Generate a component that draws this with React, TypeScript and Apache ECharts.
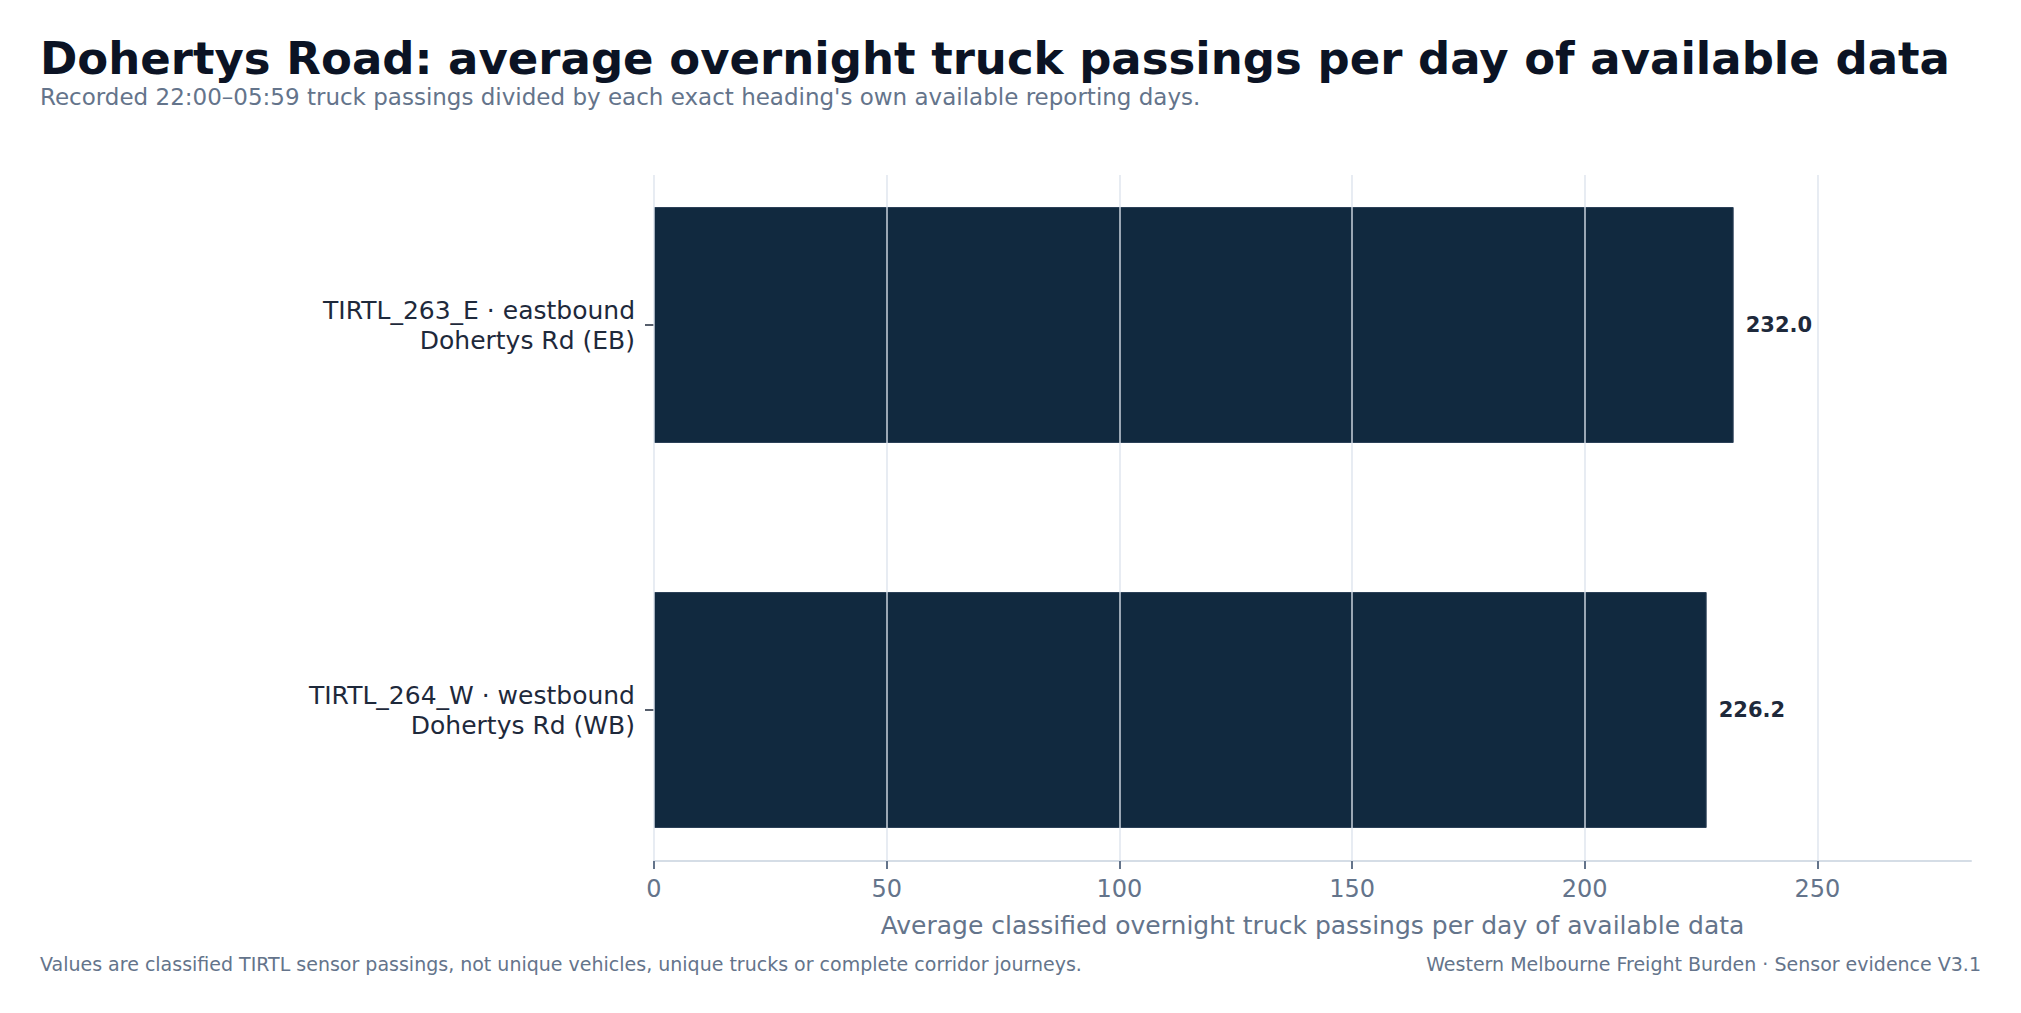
import React, { useEffect, useRef } from "react";
import * as echarts from "echarts";

const categories = [
  "TIRTL_263_E · eastbound\nDohertys Rd (EB)",
  "TIRTL_264_W · westbound\nDohertys Rd (WB)",
];
const values = [232.0, 226.2];
const xTicksMax = 250;
const xAxisMax = 283;
const xInterval = 50;

const TITLE = "Dohertys Road: average overnight truck passings per day of available data";
const SUBTITLE =
  "Recorded 22:00–05:59 truck passings divided by each exact heading's own available reporting days.";
const X_NAME = "Average classified overnight truck passings per day of available data";
const FOOT_LEFT =
  "Values are classified TIRTL sensor passings, not unique vehicles, unique trucks or complete corridor journeys.";
const FOOT_RIGHT = "Western Melbourne Freight Burden · Sensor evidence V3.1";

const FONT = "DejaVu Sans";
const W = 2021;
const H = 1013;
const PLOT_L = 654;
const PLOT_R = 1971;
const PX_PER_UNIT = (PLOT_R - PLOT_L) / xAxisMax;
const PLOT_TOP = 175;
const AXIS_Y = 861;
const BAND_TOP = 132.5;
const BAND_H = 770;

export default function App() {
  const ref = useRef<HTMLDivElement>(null);
  useEffect(() => {
    if (!ref.current) return;
    const chart = echarts.init(ref.current, undefined, { renderer: "svg" });
    const tickGridWidth = xTicksMax * PX_PER_UNIT;
    chart.setOption({
      animation: false,
      backgroundColor: "#ffffff",
      textStyle: { fontFamily: FONT },
      grid: [
        { left: PLOT_L, top: PLOT_TOP, width: tickGridWidth, height: AXIS_Y - PLOT_TOP, containLabel: false },
        { left: PLOT_L, top: BAND_TOP, width: PLOT_R - PLOT_L, height: BAND_H, containLabel: false },
        { left: PLOT_L, top: PLOT_TOP, width: PLOT_R - PLOT_L, height: AXIS_Y - PLOT_TOP, containLabel: false },
      ],
      xAxis: [
        {
          gridIndex: 0,
          type: "value",
          min: 0,
          max: xTicksMax,
          interval: xInterval,
          z: 5,
          axisLine: { show: false },
          axisTick: { show: true, length: 8, lineStyle: { color: "#64748b", width: 2 } },
          axisLabel: { show: true, margin: 16, fontSize: 24, color: "#64748b", fontFamily: FONT },
          splitLine: { show: true, lineStyle: { color: "rgba(220,227,236,0.85)", width: 1.6 } },
        },
        {
          gridIndex: 1,
          type: "value",
          min: 0,
          max: xAxisMax,
          show: false,
        },
        {
          gridIndex: 2,
          type: "value",
          min: 0,
          max: xAxisMax,
          axisLine: { show: true, lineStyle: { color: "#d5dde6", width: 2 } },
          axisTick: { show: false },
          axisLabel: { show: false },
          splitLine: { show: false },
          name: X_NAME,
          nameLocation: "middle",
          nameGap: 52,
          nameTextStyle: { fontSize: 25, color: "#64748b", fontFamily: FONT },
        },
      ],
      yAxis: [
        { gridIndex: 0, type: "value", min: 0, max: 1, show: false },
        {
          gridIndex: 1,
          type: "category",
          inverse: true,
          data: categories,
          axisLine: { show: false },
          axisTick: { show: true, alignWithLabel: true, length: 9, lineStyle: { color: "#1e293b", width: 1.5 } },
          axisLabel: {
            margin: 19,
            fontSize: 25,
            lineHeight: 30,
            padding: [5, 0, 0, 0],
            color: "#1e293b",
            fontFamily: FONT,
            align: "right",
          },
          splitLine: { show: false },
        },
        { gridIndex: 2, type: "value", min: 0, max: 1, show: false },
      ],
      series: [
        {
          type: "bar",
          xAxisIndex: 1,
          yAxisIndex: 1,
          data: values,
          barWidth: 236,
          z: 2,
          itemStyle: { color: "#11293f", borderColor: "#2c4158", borderWidth: 1 },
          label: {
            show: true,
            position: "right",
            distance: 12,
            formatter: (p: any) => Number(p.value).toFixed(1),
            fontSize: 21,
            fontWeight: "bold",
            color: "#1e293b",
            fontFamily: FONT,
          },
        },
      ],
      graphic: [
        {
          type: "text",
          left: 40,
          top: 62 - 26,
          style: {
            text: TITLE,
            fontSize: 45,
            fontWeight: "bold",
            fill: "#0b1324",
            fontFamily: FONT,
          },
        },
        {
          type: "text",
          left: 40,
          top: 98 - 13,
          style: { text: SUBTITLE, fontSize: 23, fill: "#64748b", fontFamily: FONT },
        },
        {
          type: "text",
          left: 40,
          top: 965 - 11,
          style: { text: FOOT_LEFT, fontSize: 19, fill: "#64748b", fontFamily: FONT },
        },
        {
          type: "text",
          right: W - 1981,
          top: 965 - 11,
          style: { text: FOOT_RIGHT, fontSize: 19, fill: "#64748b", fontFamily: FONT },
        },
      ],
    });
    return () => chart.dispose();
  }, []);
  return (
    <div
      ref={ref}
      style={{ position: "fixed", left: 0, top: 0, width: W, height: H, background: "#ffffff" }}
    />
  );
}
